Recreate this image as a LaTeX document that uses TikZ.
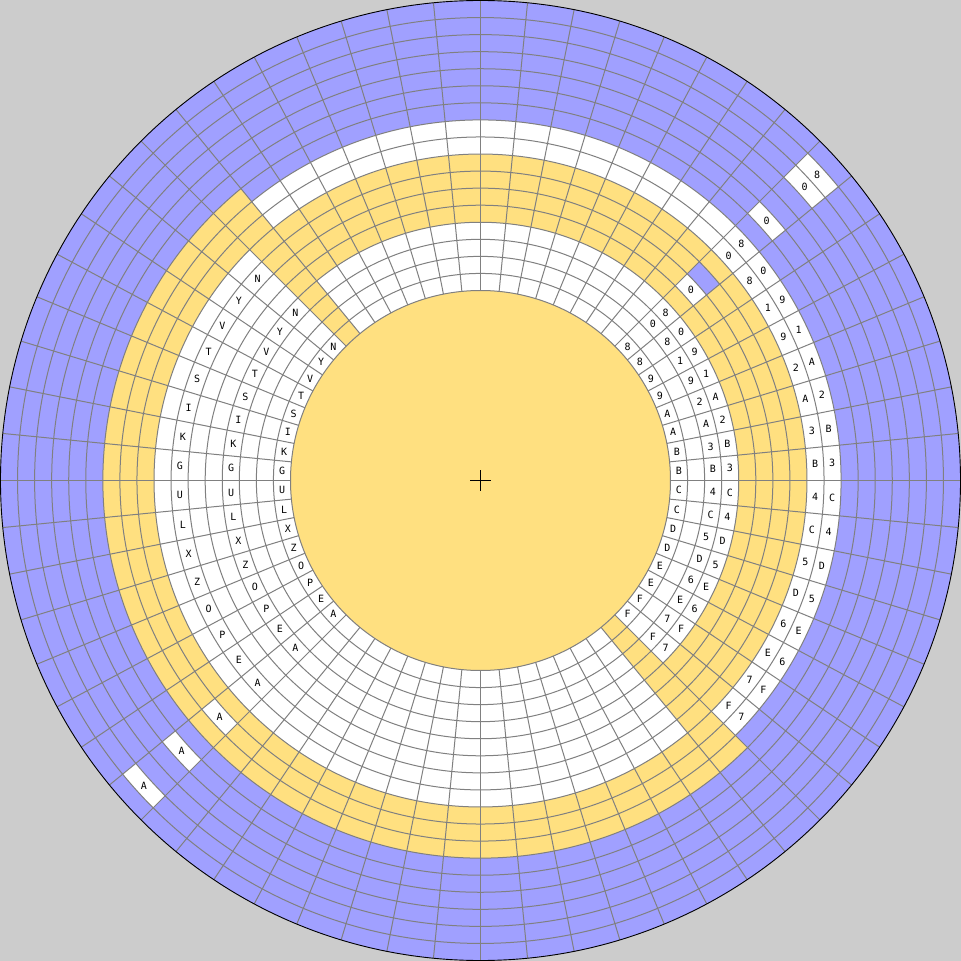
\documentclass[tikz,border=0pt]{standalone}
\usepackage{fontspec}
\newfontfamily\lblfont{DejaVu Sans Mono}
\definecolor{bgg}{HTML}{CCCCCC}
\definecolor{cblue}{HTML}{A0A0FF}
\definecolor{cyel}{HTML}{FFE080}
\definecolor{cgrid}{HTML}{808080}
\newcommand{\annfill}[5]{%
  \fill[#1] (#2:#4) arc[start angle=#2, end angle=#3, radius=#4] -- (#3:#5) arc[start angle=#3, end angle=#2, radius=#5] -- cycle;}
\begin{document}
\begin{tikzpicture}[x=1pt,y=1pt,
  lbl/.style={font=\lblfont\fontsize{10}{10}\selectfont, text=black, inner sep=0pt},
  gridline/.style={draw=cgrid, line width=1pt}]
\fill[bgg] (-480.5,-480.5) rectangle (480.5,480.5);
\useasboundingbox (-480.5,-480.5) rectangle (480.5,480.5);
% base disc
\fill[cblue] (0,0) circle[radius=480];
% right / top region (sectors 56..22)
\annfill{white}{-45}{129.375}{190}{258.2353}
\annfill{cyel}{-45}{129.375}{258.2353}{326.4706}
\annfill{white}{-45}{129.375}{326.4706}{360.5882}
% transition sectors 23 and 55
\annfill{cyel}{129.375}{135}{190}{377.6471}
\annfill{cyel}{-50.625}{-45}{190}{377.6471}
% left / bottom region (sectors 24..54)
\annfill{white}{135}{309.375}{190}{326.4706}
\annfill{cyel}{135}{309.375}{326.4706}{377.6471}
% special cells, sector 7
\annfill{white}{39.375}{45}{275.2941}{292.3529}
\annfill{cblue}{39.375}{45}{292.3529}{309.4118}
\annfill{white}{39.375}{45}{377.6471}{394.7059}
\annfill{white}{39.375}{45}{428.8235}{462.9412}
% special cells, sector 39
\annfill{white}{219.375}{225}{343.5294}{360.5882}
\annfill{white}{219.375}{225}{394.7059}{411.7647}
\annfill{white}{219.375}{225}{445.8824}{462.9412}
% inner disc
\fill[cyel] (0,0) circle[radius=190];
% grid
\foreach \k in {0,...,16} {
  \draw[gridline] (0,0) circle[radius={190+\k*17.0588}];
}
\foreach \i in {0,...,63} {
  \draw[gridline] ({\i*5.625}:190) -- ({\i*5.625}:480);
}
\draw[black, line width=0.9pt] (0,0) circle[radius=480];
% right labels
\foreach \v [count=\i from 0] in {8,8,9,9,A,A,B,B,C,C,D,D,E,E,F,F} {
  \node[lbl] (ra\i) at ({(7.5-\i)*5.625}:198.53) {\v};
}
\foreach \v [count=\i from 0] in {0,8,1,9,2,A,3,B,4,C,5,D,6,E,7,F} {
  \node[lbl] (rb\i) at ({(7.5-\i)*5.625}:232.65) {\v};
  \node[lbl] (rd\i) at ({(7.5-\i)*5.625}:335.00) {\v};
}
\foreach \v [count=\i from 0] in {8,0,9,1,A,2,B,3,C,4,D,5,E,6,F,7} {
  \node[lbl] (rc\i) at ({(7.5-\i)*5.625}:249.71) {\v};
  \node[lbl] (re\i) at ({(7.5-\i)*5.625}:352.06) {\v};
}
\node[lbl] (sx1) at (42.1875:283.82) {0};
\node[lbl] (sx2) at (42.1875:386.18) {0};
\node[lbl] (sx3) at (42.1875:437.35) {0};
\node[lbl] (sx4) at (42.1875:454.41) {8};
% left labels
\foreach \v [count=\m from 0] in {N,Y,V,T,S,I,K,G,U,L,X,Z,O,P,E,A} {
  \node[lbl] (la\m) at ({(24.5+\m)*5.625}:198.53) {\v};
  \node[lbl] (lb\m) at ({(24.5+\m)*5.625}:249.71) {\v};
  \node[lbl] (lc\m) at ({(24.5+\m)*5.625}:300.88) {\v};
}
\node[lbl] (sy1) at (222.1875:352.06) {A};
\node[lbl] (sy2) at (222.1875:403.24) {A};
\node[lbl] (sy3) at (222.1875:454.41) {A};
% centre cross
\coordinate (cw) at (-10,0); \coordinate (ce) at (10,0);
\coordinate (cs) at (0,-10); \coordinate (cn) at (0,10);
\draw[black, line width=0.9pt] (cw) -- (ce) (cs) -- (cn);
\end{tikzpicture}
\end{document}
